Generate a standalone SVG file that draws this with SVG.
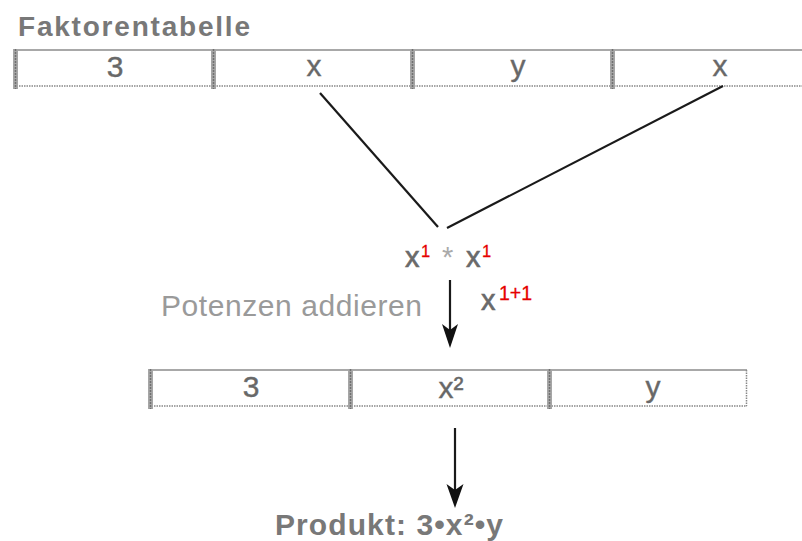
<svg xmlns="http://www.w3.org/2000/svg" width="802" height="541" viewBox="0 0 802 541">
  <style>
    .top { stroke: #a8a8a8; stroke-width: 2; fill: none; }
    .bot { stroke: #888; stroke-width: 1.5; stroke-dasharray: 1.5 1; fill: none; }
    .bar { fill: #a6a6a6; }
    .barc { stroke: #707070; stroke-width: 1.5; stroke-dasharray: 2 1; }
    .cell { font-family: "Liberation Sans", Arial, sans-serif; font-size: 30px; fill: #686868; stroke: #686868; stroke-width: 0.4; text-anchor: middle; }
    .title { font-family: "Liberation Sans", Arial, sans-serif; font-size: 28px; font-weight: bold; fill: #787878; }
    .lbl { font-family: "Liberation Sans", Arial, sans-serif; font-size: 30px; fill: #9a9a9a; }
    .math { font-family: "Liberation Sans", Arial, sans-serif; font-size: 29px; fill: #6a6a6a; stroke: #6a6a6a; stroke-width: 0.6; }
    .red { font-family: "Liberation Sans", Arial, sans-serif; fill: #e60000; stroke: #e60000; stroke-width: 0.3; }
    .line { stroke: #1a1a1a; stroke-width: 2.2; fill: none; }
    .head { fill: #111; }
  </style>
  <rect width="802" height="541" fill="#ffffff"/>

  <text class="title" x="18" y="36" textLength="232" lengthAdjust="spacing">Faktorentabelle</text>

  <g id="table1">
    <line class="top" x1="14" y1="50" x2="802" y2="50"/>
    <line class="bot" x1="14" y1="86" x2="802" y2="86"/>
    <g id="t1-cell1">
      <rect class="bar" x="13" y="49" width="5" height="40"/>
      <line class="barc" x1="15.5" y1="49" x2="15.5" y2="89"/>
      <text class="cell" x="115" y="77">3</text>
    </g>
    <g id="t1-cell2">
      <rect class="bar" x="211" y="49" width="5" height="40"/>
      <line class="barc" x1="213.5" y1="49" x2="213.5" y2="89"/>
      <text class="cell" x="314" y="76">x</text>
    </g>
    <g id="t1-cell3">
      <rect class="bar" x="410" y="49" width="5" height="40"/>
      <line class="barc" x1="412.5" y1="49" x2="412.5" y2="89"/>
      <text class="cell" x="518" y="76">y</text>
    </g>
    <g id="t1-cell4">
      <rect class="bar" x="610" y="49" width="5" height="40"/>
      <line class="barc" x1="612.5" y1="49" x2="612.5" y2="89"/>
      <text class="cell" x="720" y="76">x</text>
    </g>
  </g>

  <g id="connectors">
    <line class="line" x1="320" y1="93" x2="438" y2="227"/>
    <line class="line" x1="447" y1="228" x2="723" y2="86"/>
    <line class="line" x1="450" y1="280" x2="450" y2="332"/>
    <polygon class="head" points="442,324 450,330 458,324 450,348"/>
    <line class="line" x1="455" y1="428" x2="455" y2="492"/>
    <polygon class="head" points="446.5,484 455,490 463.5,484 455,508"/>
  </g>

  <g id="product-term">
    <text class="math" x="405" y="267">x</text>
    <text class="red" x="421" y="257" font-size="16.5">1</text>
    <text class="math" x="442" y="267" style="fill:#aaaaaa;stroke:none">*</text>
    <text class="math" x="466" y="267">x</text>
    <text class="red" x="482" y="257" font-size="16.5">1</text>
  </g>

  <text class="lbl" x="161" y="316" textLength="261" lengthAdjust="spacing">Potenzen addieren</text>

  <g id="sum-term">
    <text class="math" x="481" y="310">x</text>
    <text class="red" x="499" y="300" font-size="19.5">1+1</text>
  </g>

  <g id="table2">
    <line class="top" x1="149" y1="370" x2="747" y2="370"/>
    <line class="bot" x1="149" y1="406" x2="747" y2="406"/>
    <line class="bot" x1="746.5" y1="370" x2="746.5" y2="406"/>
    <g id="t2-cell1">
      <rect class="bar" x="148" y="369" width="5" height="40"/>
      <line class="barc" x1="150.5" y1="369" x2="150.5" y2="409"/>
      <text class="cell" x="251" y="397">3</text>
    </g>
    <g id="t2-cell2">
      <rect class="bar" x="348" y="369" width="5" height="40"/>
      <line class="barc" x1="350.5" y1="369" x2="350.5" y2="409"/>
      <text class="cell" x="451" y="398">x²</text>
    </g>
    <g id="t2-cell3">
      <rect class="bar" x="547" y="369" width="5" height="40"/>
      <line class="barc" x1="549.5" y1="369" x2="549.5" y2="409"/>
      <text class="cell" x="653" y="397">y</text>
    </g>
  </g>

  <text class="title" x="275" y="535" style="font-size:30px" textLength="228" lengthAdjust="spacing">Produkt: 3•x²•y</text>
</svg>
